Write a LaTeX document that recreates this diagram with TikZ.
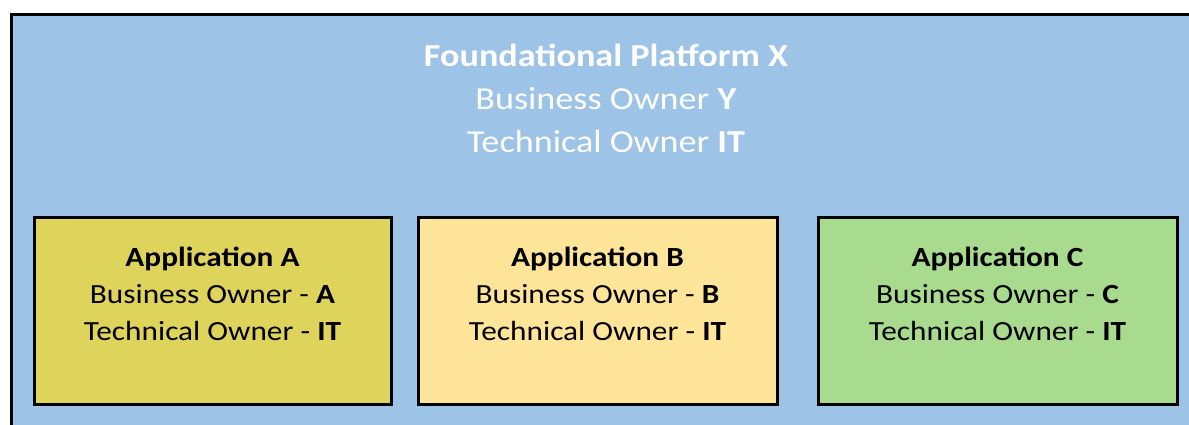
\documentclass[tikz,border=0pt]{standalone}
\usepackage{fontspec}
\setmainfont{Carlito}[FakeStretch=1.13]
\definecolor{platblue}{RGB}{157,195,230}
\definecolor{appAcol}{RGB}{222,212,92}
\definecolor{appBcol}{RGB}{255,229,153}
\definecolor{appCcol}{RGB}{169,219,143}
\tikzset{
  appbox/.style={draw=black, line width=3pt, minimum width=357pt, minimum height=187pt, inner sep=0pt},
  toptext/.style={text=white, anchor=base, inner sep=0pt, font=\fontsize{32}{38}\selectfont},
  apptext/.style={text=black, anchor=base, inner sep=0pt, font=\fontsize{27.7}{32}\selectfont},
}
\begin{document}
\begin{tikzpicture}[x=1pt,y=-1pt]
\useasboundingbox (0,0) rectangle (1189,425);
\clip (0,0) rectangle (1189,425);
\node[draw=black, line width=3pt, fill=platblue, minimum width=1190pt, minimum height=430pt, inner sep=0pt, anchor=north west] (plat) at (10,13) {};
\node[toptext] (pt1) at (606,67) {\bfseries Foundational Platform X};
\node[toptext] (pt2) at (606,110) {Business Owner \textbf{Y}};
\node[toptext] (pt3) at (606,153) {Technical Owner \textbf{IT}};

\node[appbox, fill=appAcol] (appA) at (212.5,310.5) {};
\node[appbox, fill=appBcol, minimum width=359pt] (appB) at (597.5,310.5) {};
\node[appbox, fill=appCcol, minimum width=359pt] (appC) at (997.5,310.5) {};

\node[apptext] (a1) at (212.5,266) {\bfseries Application A};
\node[apptext] (a2) at (212.5,303) {Business Owner - \textbf{A}};
\node[apptext] (a3) at (212.5,340) {Technical Owner - \textbf{IT}};

\node[apptext] (b1) at (597.5,266) {\bfseries Application B};
\node[apptext] (b2) at (597.5,303) {Business Owner - \textbf{B}};
\node[apptext] (b3) at (597.5,340) {Technical Owner - \textbf{IT}};

\node[apptext] (c1) at (997.5,266) {\bfseries Application C};
\node[apptext] (c2) at (997.5,303) {Business Owner - \textbf{C}};
\node[apptext] (c3) at (997.5,340) {Technical Owner - \textbf{IT}};
\end{tikzpicture}
\end{document}
